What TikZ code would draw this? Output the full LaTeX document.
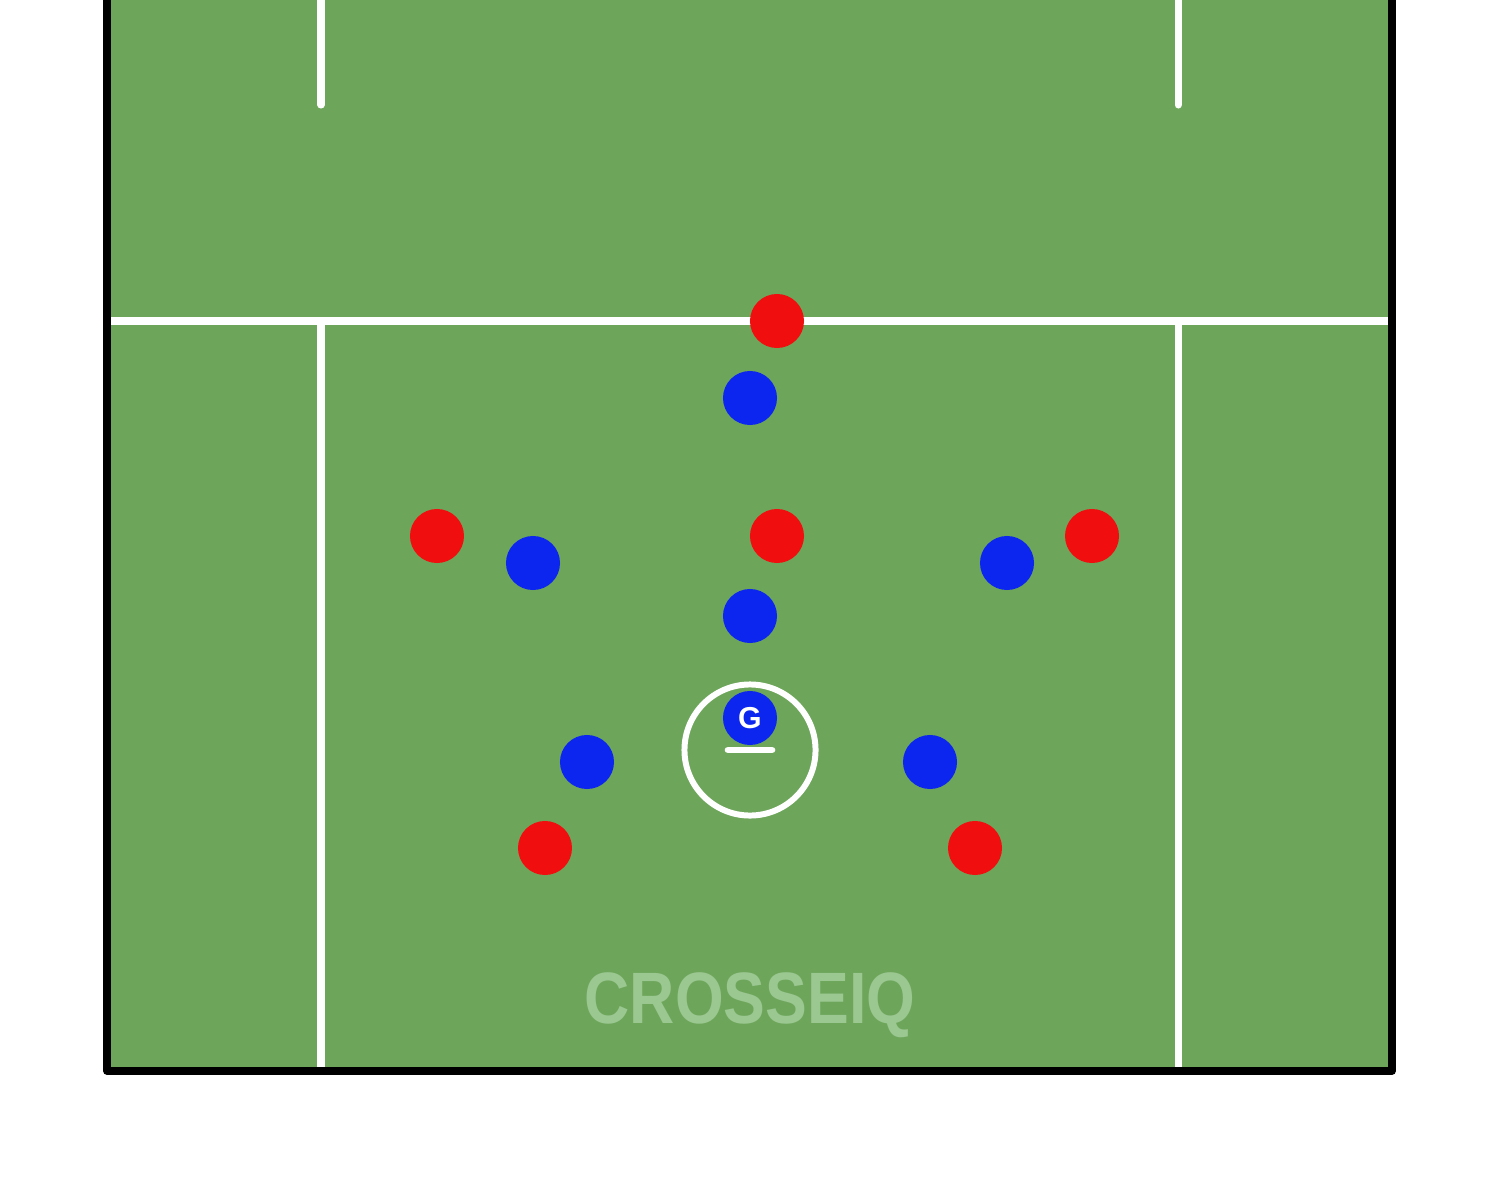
\documentclass[tikz,border=0pt]{standalone}
\usepackage{fontspec}
\setmainfont{Liberation Sans}
\definecolor{pitch}{RGB}{109,166,91}
\definecolor{redteam}{RGB}{240,14,14}
\definecolor{blueteam}{RGB}{12,38,240}
\definecolor{mark}{RGB}{155,199,145}
\tikzset{
	redp/.style={circle, fill=redteam, minimum size=0.54cm, inner sep=0pt},
	bluep/.style={circle, fill=blueteam, minimum size=0.54cm, inner sep=0pt},
	chalk/.style={white, line width=2pt}
}
\begin{document}
\begin{tikzpicture}[x=0.01cm, y=-0.01cm]
			\useasboundingbox (0,0) rectangle (1500,1179);
			\fill[pitch] (107,0) rectangle (1392,1071);
			% field lines
			\draw[chalk] (111,321) -- (1389,321);
			\draw[chalk] (321,325) -- (321,1067);
			\draw[chalk] (1178,325) -- (1178,1067);
			\draw[chalk, line cap=round] (321,0) -- (321,105);
			\draw[chalk, line cap=round] (1178,0) -- (1178,105);
			\draw[black, line width=2.15pt, line join=round] (107,0) -- (107,1071) -- (1392,1071) -- (1392,0);
			% crease
			\node	(crease) at (750,750) [circle, draw=white, line width=1.7pt, minimum size=1.31cm, inner sep=0pt] {};
			\coordinate (gl) at (728,750);
			\coordinate (gr) at (772,750);
			\draw[chalk, line width=1.9pt, line cap=round] (gl) -- (gr);
			% watermark
			\node	(mark) at (750,1005) [text=mark, font=\bfseries\fontsize{20.7}{24}\selectfont, xscale=0.86, inner sep=0pt] {CROSSEIQ};
			% red team
			\node	(r1) at (777,321) [redp] {};
			\node	(r2) at (437,536) [redp] {};
			\node	(r3) at (777,536) [redp] {};
			\node	(r4) at (1092,536) [redp] {};
			\node	(r5) at (545,848) [redp] {};
			\node	(r6) at (975,848) [redp] {};
			% blue team
			\node	(b1) at (750,398) [bluep] {};
			\node	(b2) at (533,563) [bluep] {};
			\node	(b3) at (1007,563) [bluep] {};
			\node	(b4) at (750,616) [bluep] {};
			\node	(b5) at (587,762) [bluep] {};
			\node	(b6) at (930,762) [bluep] {};
			\node	(goalie) at (750,718) [bluep, text=white, font=\bfseries\fontsize{8.6}{10}\selectfont] {G};
		\end{tikzpicture}
\end{document}
